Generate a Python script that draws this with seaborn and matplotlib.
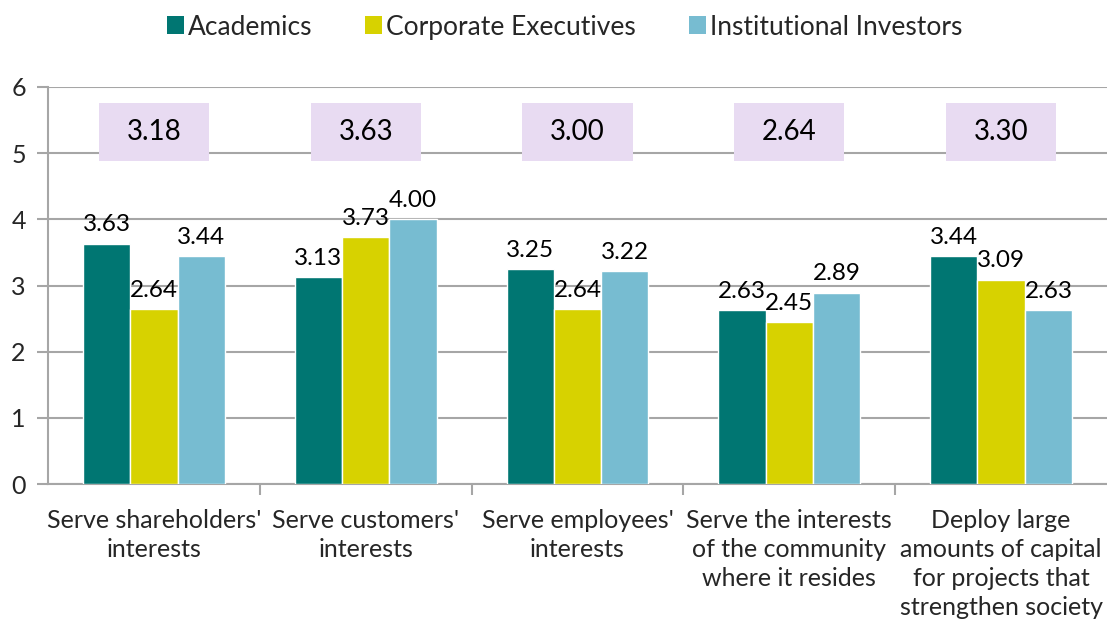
import numpy as np
import pandas as pd
import matplotlib.pyplot as plt
import seaborn as sns
from matplotlib.patches import Rectangle

categories = [
    "Serve shareholders'\ninterests",
    "Serve customers'\ninterests",
    "Serve employees'\ninterests",
    "Serve the interests\nof the community\nwhere it resides",
    "Deploy large\namounts of capital\nfor projects that\nstrengthen society",
]
groups = ["Academics", "Corporate Executives", "Institutional Investors"]
academics = [3.63, 3.13, 3.25, 2.63, 3.44]
executives = [2.64, 3.73, 2.64, 2.45, 3.09]
investors = [3.44, 4.00, 3.22, 2.89, 2.63]
averages = [3.18, 3.63, 3.00, 2.64, 3.30]

colors = ["#007672", "#D7D200", "#77BCD1"]
box_color = "#E8DBF2"
grid_color = "#A6A6A6"

df = pd.DataFrame({
    "category": categories * 3,
    "group": np.repeat(groups, len(categories)),
    "score": academics + executives + investors,
})

sns.set_theme(style="white")
plt.rcParams["font.family"] = ["Lato", "DejaVu Sans"]

fig = plt.figure(figsize=(11.07, 6.25), dpi=100)
ax = fig.add_axes([0.0434, 0.2256, 0.9566, 0.6352])

sns.barplot(data=df, x="category", y="score", hue="group", palette=colors,
            width=0.67, saturation=1, ax=ax, legend=False, zorder=3)

for cont in ax.containers:
    ax.bar_label(cont, fmt="%.2f", padding=6, fontsize=17.5, color="black")

# average boxes
for i, avg in enumerate(averages):
    ax.add_patch(Rectangle((i - 0.26, 4.88), 0.52, 0.88, facecolor=box_color,
                           edgecolor="none", zorder=4))
    ax.text(i, 5.32, f"{avg:.2f}", ha="center", va="center", fontsize=20,
            color="black", zorder=5)

ax.set_ylim(0, 6)
ax.set_xlim(-0.5, 4.5)
ax.set_yticks(range(7))
ax.yaxis.grid(True, color=grid_color, linewidth=1.5, zorder=0)
ax.set_axisbelow(True)
ax.set_xlabel("")
ax.set_ylabel("")

for s in ["top", "right"]:
    ax.spines[s].set_visible(False)
for s in ["left", "bottom"]:
    ax.spines[s].set_color(grid_color)
    ax.spines[s].set_linewidth(1.5)

ax.tick_params(axis="y", length=8, width=1.5, color=grid_color, labelsize=18,
               pad=8, left=True)
ax.tick_params(axis="x", which="major", length=0, labelsize=18, pad=18)
ax.set_xticks(np.arange(0.5, 4.5, 1), minor=True)
ax.tick_params(axis="x", which="minor", length=8, width=1.5, color=grid_color,
               bottom=True)
ax.set_xticklabels(categories, linespacing=1.32)

handles = [Rectangle((0, 0), 1, 1, facecolor=c, edgecolor="none") for c in colors]
fig.legend(handles, groups, loc="upper center", bbox_to_anchor=(0.51, 1.0),
           ncol=3, frameon=False, fontsize=19, handlelength=0.65,
           handleheight=0.65, handletextpad=0.15, columnspacing=2.0,
           borderaxespad=0.15)

fig.savefig("out.png", dpi=100)
